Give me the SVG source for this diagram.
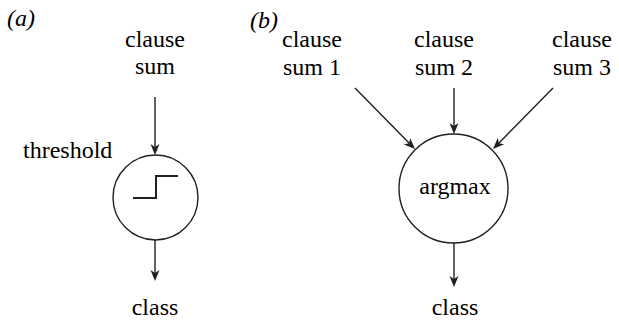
<svg xmlns="http://www.w3.org/2000/svg" width="619" height="328" viewBox="0 0 619 328">
<text style="font-family:'Liberation Serif',serif;font-size:24px;font-style:italic" x="7" y="26">(a)</text>
<text style="font-family:'Liberation Serif',serif;font-size:24px;font-style:italic" x="250" y="28">(b)</text>
<g id="in-a"><text style="font-family:'Liberation Serif',serif;font-size:24px;text-anchor:middle" x="155" y="47">clause</text><text style="font-family:'Liberation Serif',serif;font-size:24px;text-anchor:middle" x="155" y="74">sum</text></g>
<g id="threshold"><text style="font-family:'Liberation Serif',serif;font-size:24px" x="23" y="158">threshold</text>
<circle cx="155.5" cy="197.5" r="42.5" fill="none" stroke="#231f20" stroke-width="1.4"/>
<path d="M133,198 H156 V176 H178" fill="none" stroke="#231f20" stroke-width="2"/></g>
<g id="class-a"><text style="font-family:'Liberation Serif',serif;font-size:24px;text-anchor:middle" x="155" y="315">class</text></g>
<g id="in-b1"><text style="font-family:'Liberation Serif',serif;font-size:24px;text-anchor:middle" x="312" y="47">clause</text><text style="font-family:'Liberation Serif',serif;font-size:24px;text-anchor:middle" x="312" y="75">sum 1</text></g>
<g id="in-b2"><text style="font-family:'Liberation Serif',serif;font-size:24px;text-anchor:middle" x="444" y="47">clause</text><text style="font-family:'Liberation Serif',serif;font-size:24px;text-anchor:middle" x="444" y="75">sum 2</text></g>
<g id="in-b3"><text style="font-family:'Liberation Serif',serif;font-size:24px;text-anchor:middle" x="582" y="47">clause</text><text style="font-family:'Liberation Serif',serif;font-size:24px;text-anchor:middle" x="582" y="75">sum 3</text></g>
<g id="argmax"><circle cx="453.5" cy="188.5" r="54.5" fill="none" stroke="#231f20" stroke-width="1.4"/><text style="font-family:'Liberation Serif',serif;font-size:24px;text-anchor:middle" x="455" y="194">argmax</text></g>
<g id="class-b"><text style="font-family:'Liberation Serif',serif;font-size:24px;text-anchor:middle" x="455" y="315">class</text></g>
<g id="connectors">
<g fill="none" stroke="#231f20" stroke-width="1.4">
<line x1="155" y1="97" x2="155" y2="148"/>
<line x1="155" y1="240" x2="155" y2="274"/>
<line x1="454" y1="88" x2="454" y2="127"/>
<line x1="355" y1="88" x2="410" y2="144"/>
<line x1="553" y1="88" x2="498" y2="144"/>
<line x1="454" y1="243" x2="454" y2="280"/>
</g>
<g fill="#231f20">
<path d="M155,155 L150.5,144 L155,147 L159.5,144 z"/>
<path d="M155,281 L150.5,270 L155,273 L159.5,270 z"/>
<path d="M454,134 L449.5,123 L454,126 L458.5,123 z"/>
<path d="M454,287 L449.5,276 L454,279 L458.5,276 z"/>
<path d="M415,149 L403.8,144.4 L409.1,143.3 L410.2,138 z"/>
<path d="M493,149 L497.8,137.8 L498.8,143.2 L504.2,144.2 z"/>
</g>
</g>
</svg>
